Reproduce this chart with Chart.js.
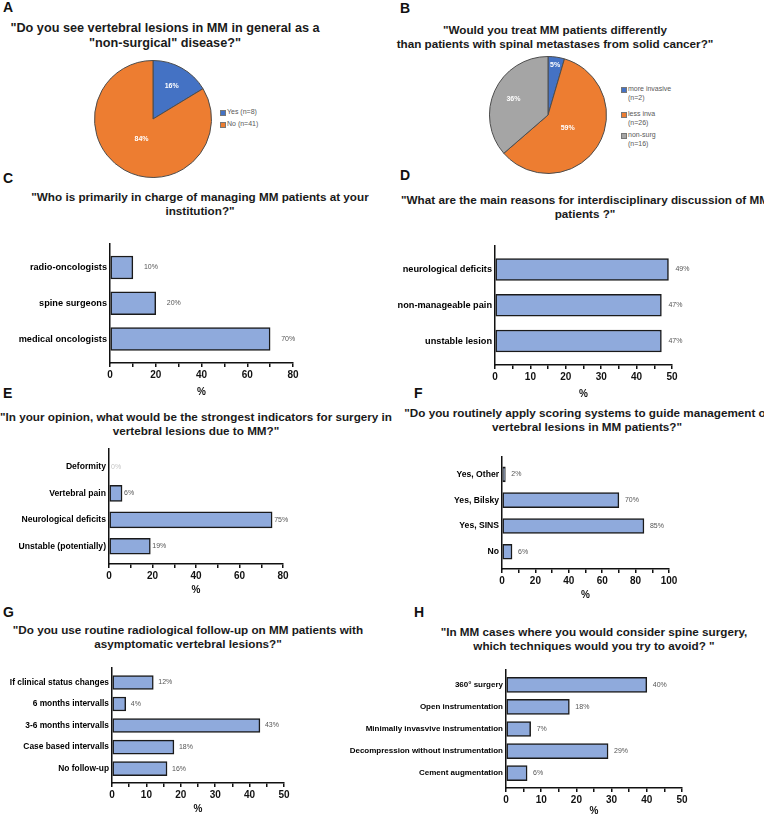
<!DOCTYPE html>
<html>
<head>
<meta charset="utf-8">
<script src="https://cdn.jsdelivr.net/npm/chart.js@4.4.1/dist/chart.umd.min.js"></script>
<style>
  body { margin: 0; background: #fff; }
  #page { position: relative; width: 764px; height: 819px; overflow: hidden; font-family: 'Liberation Sans', Arial, sans-serif; }
  .letter { position: absolute; font-weight: bold; font-size: 14px; line-height: 14px; color: #111; }
  .title { position: absolute; width: 420px; font-weight: bold; font-size: 11.7px; line-height: 13.5px; text-align: center; color: #1a1a1a; white-space: nowrap; }
  canvas { position: absolute; }
  .legend { position: absolute; font-size: 7px; line-height: 8.5px; color: #595959; }
  .legend .box { position: absolute; left: 0; top: 2px; width: 4px; height: 4px; border: 1px solid #777; }
  .legend .txt { position: absolute; left: 7px; top: 0; white-space: nowrap; }
</style>
</head>
<body>
<div id="page">
  <div class="letter" style="left:3px;top:0px">A</div>
  <div class="letter" style="left:400px;top:1px">B</div>
  <div class="letter" style="left:3px;top:171px">C</div>
  <div class="letter" style="left:400px;top:168px">D</div>
  <div class="letter" style="left:3px;top:386px">E</div>
  <div class="letter" style="left:414px;top:386px">F</div>
  <div class="letter" style="left:3px;top:605px">G</div>
  <div class="letter" style="left:414px;top:605px">H</div>

  <div class="title" style="left:-45px;top:21px;font-size:12.7px;line-height:15px">"Do you see vertebral lesions in MM in general as a<br>"non-surgical" disease?"</div>
  <div class="title" style="left:345px;top:23px">"Would you treat MM patients differently<br>than patients with spinal metastases from solid cancer?"</div>
  <div class="title" style="left:-10px;top:190px">"Who is primarily in charge of managing MM patients at your<br>institution?"</div>
  <div class="title" style="left:375px;top:193px">"What are the main reasons for interdisciplinary discussion of MM<br>patients ?"</div>
  <div class="title" style="left:-14px;top:410px">"In your opinion, what would be the strongest indicators for surgery in<br>vertebral lesions due to MM?"</div>
  <div class="title" style="left:377px;top:406px">"Do you routinely apply scoring systems to guide management of<br>vertebral lesions in MM patients?"</div>
  <div class="title" style="left:-22px;top:623px">"Do you use routine radiological follow-up on MM patients with<br>asymptomatic vertebral lesions?"</div>
  <div class="title" style="left:384px;top:625px">"In MM cases where you would consider spine surgery,<br>which techniques would you try to avoid? "</div>

  <canvas id="pieA" width="118" height="118" style="left:94px;top:60px"></canvas>
  <canvas id="pieB" width="118" height="118" style="left:489px;top:56px"></canvas>
  <canvas id="barC" width="307" height="165" style="left:0px;top:235px"></canvas>
  <canvas id="barD" width="314" height="165" style="left:382px;top:237px"></canvas>
  <canvas id="barE" width="297" height="157" style="left:0px;top:441px"></canvas>
  <canvas id="barF" width="243" height="154" style="left:440px;top:449px"></canvas>
  <canvas id="barG" width="298" height="157" style="left:0px;top:660px"></canvas>
  <canvas id="barH" width="356" height="157" style="left:340px;top:662px"></canvas>
</div>
<script>
// A: non-surgical disease?
const pieALabels = [['Yes (n=8)'], ['No (n=41)']];
const pieAValues = [8, 41];

// B: treat differently?
const pieBLabels = [['more invasive', '(n=2)'], ['less inva', '(n=26)'], ['non-surg', '(n=16)']];
const pieBValues = [2, 26, 16];

const pieColors = ['#4472C4', '#ED7D31', '#A5A5A5'];

// C: who is in charge
const chargeLabels = ['radio-oncologists', 'spine surgeons', 'medical oncologists'];
const chargeValues = [10, 20, 70];

// D: reasons for discussion
const reasonLabels = ['neurological deficits', 'non-manageable pain', 'unstable lesion'];
const reasonValues = [49, 47, 47];

// E: indicators for surgery
const indicatorLabels = ['Deformity', 'Vertebral pain', 'Neurological deficits', 'Unstable (potentially)'];
const indicatorValues = [0, 6, 75, 19];

// F: scoring systems
const scoringLabels = ['Yes, Other', 'Yes, Bilsky', 'Yes, SINS', 'No'];
const scoringValues = [2, 70, 85, 6];

// G: follow-up
const followLabels = ['If clinical status changes', '6 months intervalls', '3-6 months intervalls', 'Case based intervalls', 'No follow-up'];
const followValues = [12, 4, 43, 18, 16];

// H: techniques to avoid
const avoidLabels = ['360° surgery', 'Open instrumentation', 'Minimally invasvive instrumentation', 'Decompression without instrumentation', 'Cement augmentation'];
const avoidValues = [40, 18, 7, 29, 6];

const FONT = "'Liberation Sans', Arial, sans-serif";
const barFill = '#8FAADC';
const ink = '#111';
const EDGE = 0.67; // gap above first / below last bar, in rows

// percent text next to each bar
const valueLabels = {
    id: 'valueLabels',
    afterDatasetsDraw(chart, args, opts) {
        const ctx = chart.ctx;
        const values = chart.data.datasets[0].data;
        ctx.save();
        ctx.font = '7px ' + FONT;
        ctx.textBaseline = 'middle';
        chart.getDatasetMeta(0).data.forEach((bar, i) => {
            const v = values[i].x;
            ctx.fillStyle = v === 0 ? '#c4c4c4' : '#555';
            ctx.fillText(v + '%', bar.x + opts.offset, bar.y);
        });
        ctx.restore();
    }
};

// percent text inside pie slices
const pieLabels = {
    id: 'pieLabels',
    afterDatasetsDraw(chart) {
        const ctx = chart.ctx;
        const values = chart.data.datasets[0].data;
        const sum = values.reduce((a, b) => a + b, 0);
        ctx.save();
        ctx.font = 'bold 7px ' + FONT;
        ctx.fillStyle = '#fff';
        ctx.textAlign = 'center';
        ctx.textBaseline = 'middle';
        chart.getDatasetMeta(0).data.forEach((arc, i) => {
            const share = values[i] / sum;
            const mid = (arc.startAngle + arc.endAngle) / 2;
            const r = arc.outerRadius * (share < 0.1 ? 0.86 : (share > 0.5 ? 0.4 : 0.65));
            ctx.fillText(Math.round(share * 100) + '%', arc.x + Math.cos(mid) * r, arc.y + Math.sin(mid) * r);
        });
        ctx.restore();
    }
};

function pieChart(id, values) {
    new Chart(document.getElementById(id), {
        type: 'pie',
        data: {
            datasets: [{
                data: values,
                backgroundColor: pieColors,
                borderColor: '#4d4d4d',
                borderWidth: 1
            }]
        },
        options: {
            responsive: false,
            animation: false,
            plugins: { legend: { display: false }, tooltip: { enabled: false } }
        },
        plugins: [pieLabels]
    });
}

function pieLegend(labels, left, tops) {
    labels.forEach((lines, i) => {
        const item = document.createElement('div');
        item.className = 'legend';
        item.style.left = left + 'px';
        item.style.top = tops[i] + 'px';
        item.innerHTML = '<span class="box" style="background:' + pieColors[i] + '"></span>' +
            '<span class="txt">' + lines.join('<br>') + '</span>';
        document.getElementById('page').appendChild(item);
    });
}

// horizontal bars on a numeric row axis so the gaps at both ends can be set
function barChart(id, labels, values, cfg) {
    const points = values.map((v, i) => ({ x: v, y: i }));
    new Chart(document.getElementById(id), {
        type: 'bar',
        data: {
            datasets: [{
                data: points,
                backgroundColor: barFill,
                borderColor: '#1a1a1a',
                borderWidth: 1.5,
                borderSkipped: false,
                barThickness: cfg.thick
            }]
        },
        options: {
            indexAxis: 'y',
            responsive: false,
            animation: false,
            layout: { padding: { top: 8, right: cfg.padR || 14, left: 0, bottom: 0 } },
            plugins: {
                legend: { display: false },
                tooltip: { enabled: false },
                valueLabels: { offset: cfg.offset }
            },
            scales: {
                x: {
                    type: 'linear',
                    min: 0,
                    max: cfg.max,
                    ticks: {
                        stepSize: cfg.step,
                        autoSkip: false,
                        maxRotation: 0,
                        padding: 2,
                        color: ink,
                        font: { family: FONT, size: 10, weight: 'bold' },
                        callback: v => (v % cfg.major === 0 ? v : '')
                    },
                    grid: { drawOnChartArea: false, drawTicks: true, tickLength: 4, color: ink, lineWidth: 1.5 },
                    border: { color: ink, width: 1.5 },
                    title: {
                        display: true,
                        text: '%',
                        color: ink,
                        font: { family: FONT, size: 10, weight: 'bold' },
                        padding: { top: 0, bottom: 2 }
                    },
                    afterFit: s => { s.height = cfg.xh; }
                },
                y: {
                    type: 'linear',
                    reverse: true,
                    offset: false,
                    min: -EDGE,
                    max: labels.length - 1 + EDGE,
                    grid: { display: false, drawTicks: false, offset: false },
                    border: { color: ink, width: 1.5 },
                    ticks: {
                        stepSize: 1,
                        autoSkip: false,
                        color: '#000',
                        padding: 3,
                        font: { family: FONT, size: cfg.fs, weight: 'bold' },
                        callback: v => (Number.isInteger(v) ? labels[v] : '')
                    },
                    afterFit: s => { s.width = cfg.yw; }
                }
            }
        },
        plugins: [valueLabels]
    });
}

pieChart('pieA', pieAValues);
pieLegend(pieALabels, 220, [108, 120]);
pieChart('pieB', pieBValues);
pieLegend(pieBLabels, 621, [85, 110, 131]);

barChart('barC', chargeLabels, chargeValues, { max: 80, step: 10, major: 20, thick: 23, offset: 11, yw: 110, xh: 37, fs: 9.2 });
barChart('barD', reasonLabels, reasonValues, { max: 50, step: 5, major: 10, thick: 22, offset: 7, yw: 113, xh: 37, fs: 9.2, padR: 24 });
barChart('barE', indicatorLabels, indicatorValues, { max: 80, step: 10, major: 20, thick: 16, offset: 2, yw: 109, xh: 34, fs: 8.6 });
barChart('barF', scoringLabels, scoringValues, { max: 100, step: 10, major: 20, thick: 15, offset: 6, yw: 62, xh: 34, fs: 8.6 });
barChart('barG', followLabels, followValues, { max: 50, step: 5, major: 10, thick: 14, offset: 5, yw: 112, xh: 34, fs: 8.4 });
barChart('barH', avoidLabels, avoidValues, { max: 50, step: 5, major: 10, thick: 15, offset: 6, yw: 166, xh: 31, fs: 8 });
</script>
</body>
</html>
